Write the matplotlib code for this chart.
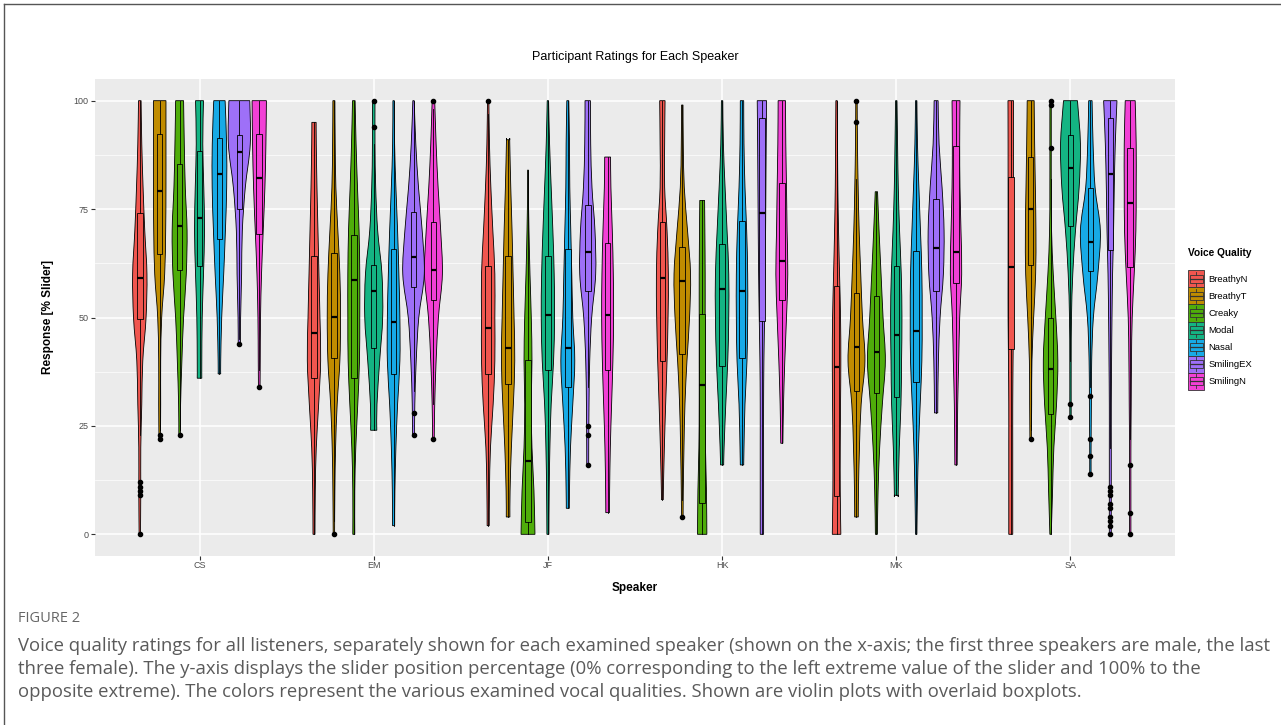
import numpy as np
import matplotlib.pyplot as plt
from matplotlib.path import Path
from matplotlib.patches import PathPatch, Patch, Rectangle
from matplotlib.lines import Line2D
from matplotlib.legend_handler import HandlerBase

speakers = ["CS", "EM", "JF", "HK", "MK", "SA"]
qualities = ["BreathyN", "BreathyT", "Creaky", "Modal", "Nasal", "SmilingEX", "SmilingN"]
colors = ["#F0564F", "#C08C00", "#4FAD0A", "#14B483", "#17AAE6", "#9E70F8", "#F240D6"]

# box statistics, one row per speaker, one column per voice quality
q1 = [
    [49.7, 64.7, 61.0, 61.8, 68.0, 75.0, 69.2],
    [36.0, 40.7, 36.0, 43.0, 37.0, 57.0, 54.1],
    [37.0, 34.7, 2.9, 37.8, 34.0, 56.1, 37.9],
    [39.9, 41.6, 7.3, 38.9, 40.7, 49.3, 54.1],
    [8.9, 33.1, 32.7, 31.7, 35.1, 56.1, 58.0],
    [42.7, 62.0, 27.7, 71.0, 60.7, 65.5, 61.6],
]
med = [
    [59.0, 79.1, 71.0, 73.0, 83.1, 88.1, 82.1],
    [46.5, 50.1, 58.6, 56.0, 49.0, 64.0, 61.0],
    [47.5, 43.0, 17.0, 50.5, 43.0, 65.1, 50.5],
    [59.0, 58.5, 34.5, 56.5, 56.1, 74.0, 63.0],
    [38.5, 43.1, 42.0, 45.9, 47.0, 66.0, 65.0],
    [61.6, 75.0, 38.1, 84.5, 67.5, 83.1, 76.5],
]
q3 = [
    [74.0, 92.3, 85.5, 88.3, 91.3, 92.0, 92.3],
    [64.2, 64.9, 69.0, 62.0, 65.9, 74.3, 72.0],
    [61.9, 64.2, 40.2, 64.2, 65.9, 76.0, 67.2],
    [72.0, 66.3, 50.9, 67.0, 72.3, 96.0, 81.1],
    [57.2, 55.7, 55.0, 61.9, 65.3, 77.4, 89.5],
    [82.3, 87.1, 50.0, 92.0, 79.8, 96.0, 89.2],
]
whislo = [
    [23, 24, 24, 36, 37, 45, 38],
    [0, 3, 0, 24, 2, 33, 30],
    [2, 4, 0, 0, 6, 34, 5],
    [8, 8, 0, 16, 16, 0, 21],
    [0, 4, 0, 9, 0, 28, 16],
    [0, 24, 0, 40, 34, 20, 22],
]
whishi = [
    [100, 100, 100, 100, 100, 100, 100],
    [95, 100, 100, 90, 100, 100, 98],
    [97, 91, 84, 100, 100, 100, 87],
    [100, 99, 77, 100, 100, 100, 100],
    [100, 82, 79, 100, 100, 100, 100],
    [100, 100, 82, 100, 100, 100, 100],
]
outliers = [
    [[12, 11, 10, 9, 0], [23, 22], [23], [], [], [44], [34]],
    [[], [0], [], [94, 100], [], [28, 23], [100, 22]],
    [[100], [], [], [], [], [25, 23, 16], []],
    [[], [4], [], [], [], [], []],
    [[], [95, 100], [], [], [], [], []],
    [[], [22], [89, 99, 100], [30, 27], [32, 22, 18, 14],
     [11, 10, 9, 7, 6, 4, 3, 2, 0], [16, 5, 0]],
]

# violin widths at ratings 0, 10, ..., 100
levels = np.arange(0, 101, 10)
dens_cs = [
    [0.07, 0.1, 0.1, 0.2, 0.3, 0.63, 0.72, 0.5, 0.33, 0.2, 0.13],
    [0, 0, 0.07, 0.1, 0.1, 0.2, 0.5, 0.6, 0.63, 0.63, 0.63],
    [0, 0, 0.07, 0.1, 0.23, 0.4, 0.67, 0.75, 0.57, 0.47, 0.4],
    [0, 0, 0, 0.23, 0.23, 0.27, 0.4, 0.5, 0.43, 0.33, 0.4],
    [0, 0, 0, 0.13, 0.13, 0.23, 0.43, 0.6, 0.73, 0.72, 0.57],
    [0, 0, 0, 0, 0.1, 0.13, 0.23, 0.3, 0.6, 1.1, 1.05],
    [0, 0, 0, 0.07, 0.1, 0.13, 0.23, 0.4, 0.57, 0.67, 0.72],
]
dens_em = [
    [0.1, 0.13, 0.23, 0.47, 0.67, 0.6, 0.5, 0.4, 0.3, 0.23, 0.2],
    [0.07, 0.1, 0.17, 0.33, 0.6, 0.67, 0.6, 0.4, 0.2, 0.13, 0.1],
    [0.1, 0.1, 0.2, 0.4, 0.57, 0.6, 0.6, 0.53, 0.37, 0.23, 0.13],
    [0, 0, 0.3, 0.33, 0.6, 0.9, 0.83, 0.4, 0.2, 0.13, 0.13],
    [0.1, 0.13, 0.23, 0.4, 0.63, 0.63, 0.53, 0.4, 0.23, 0.1, 0.07],
    [0, 0, 0.1, 0.13, 0.27, 0.53, 1.08, 0.87, 0.5, 0.23, 0.07],
    [0, 0, 0.07, 0.13, 0.27, 0.5, 0.9, 0.73, 0.47, 0.27, 0.13],
]
dens_jf = [
    [0.1, 0.13, 0.23, 0.5, 0.67, 0.67, 0.67, 0.47, 0.27, 0.13, 0.07],
    [0.17, 0.2, 0.33, 0.53, 0.67, 0.6, 0.5, 0.4, 0.27, 0.17, 0.17],
    [0.7, 0.6, 0.4, 0.33, 0.4, 0.33, 0.2, 0.1, 0.03, 0.03, 0.03],
    [0.1, 0.13, 0.2, 0.33, 0.57, 0.67, 0.63, 0.5, 0.33, 0.17, 0.07],
    [0.13, 0.17, 0.27, 0.5, 0.7, 0.5, 0.4, 0.3, 0.2, 0.17, 0.1],
    [0, 0.1, 0.1, 0.13, 0.2, 0.4, 0.8, 0.73, 0.43, 0.3, 0.27],
    [0.17, 0.2, 0.27, 0.4, 0.53, 0.6, 0.57, 0.47, 0.33, 0.28, 0.28],
]
dens_hk = [
    [0.1, 0.1, 0.2, 0.33, 0.47, 0.57, 0.6, 0.47, 0.23, 0.23, 0.27],
    [0.07, 0.1, 0.17, 0.27, 0.47, 0.73, 0.83, 0.53, 0.2, 0.1, 0.07],
    [0.47, 0.43, 0.33, 0.3, 0.3, 0.3, 0.3, 0.27, 0.23, 0.23, 0.23],
    [0, 0.1, 0.2, 0.37, 0.57, 0.67, 0.67, 0.5, 0.3, 0.13, 0.07],
    [0, 0.13, 0.2, 0.3, 0.5, 0.57, 0.57, 0.47, 0.3, 0.2, 0.17],
    [0.17, 0.17, 0.17, 0.17, 0.2, 0.27, 0.33, 0.37, 0.4, 0.43, 0.47],
    [0, 0.1, 0.1, 0.17, 0.3, 0.47, 0.6, 0.53, 0.47, 0.4, 0.37],
]
dens_mk = [
    [0.43, 0.37, 0.37, 0.4, 0.43, 0.4, 0.3, 0.2, 0.13, 0.1, 0.07],
    [0.17, 0.2, 0.3, 0.47, 0.85, 0.6, 0.43, 0.27, 0.17, 0.1, 0.07],
    [0.1, 0.17, 0.33, 0.6, 0.9, 0.67, 0.47, 0.27, 0.1, 0.1, 0.1],
    [0.2, 0.2, 0.3, 0.47, 0.53, 0.57, 0.5, 0.33, 0.2, 0.13, 0.07],
    [0.07, 0.13, 0.23, 0.4, 0.57, 0.6, 0.57, 0.43, 0.27, 0.13, 0.07],
    [0, 0, 0.17, 0.17, 0.23, 0.4, 0.73, 0.8, 0.6, 0.3, 0.2],
    [0, 0.1, 0.13, 0.17, 0.27, 0.37, 0.57, 0.5, 0.4, 0.37, 0.4],
]
dens_sa = [
    [0.2, 0.2, 0.2, 0.2, 0.23, 0.27, 0.27, 0.27, 0.27, 0.27, 0.28],
    [0, 0, 0.07, 0.1, 0.13, 0.3, 0.5, 0.53, 0.47, 0.4, 0.35],
    [0.07, 0.2, 0.33, 0.6, 0.73, 0.53, 0.27, 0.1, 0.07, 0.07, 0.07],
    [0, 0, 0.07, 0.07, 0.07, 0.1, 0.23, 0.5, 0.87, 1.0, 0.7],
    [0, 0.07, 0.07, 0.1, 0.13, 0.3, 0.75, 1.0, 0.47, 0.27, 0.17],
    [0.1, 0.1, 0.1, 0.1, 0.13, 0.17, 0.23, 0.33, 0.4, 0.5, 0.67],
    [0.07, 0.07, 0.07, 0.1, 0.13, 0.2, 0.4, 0.57, 0.6, 0.6, 0.5],
]
densities = [dens_cs, dens_em, dens_jf, dens_hk, dens_mk, dens_sa]

DODGE = 0.8
SLOT = DODGE / len(qualities)
HALF = SLOT / 2          # violin half-width for density 1.0
BOXW = 0.032


def smooth_side(pts):
    # Catmull-Rom through the points, written as cubic Bezier segments
    verts = [pts[0]]
    codes = []
    n = len(pts)
    for i in range(n - 1):
        p0 = pts[max(i - 1, 0)]
        p1 = pts[i]
        p2 = pts[i + 1]
        p3 = pts[min(i + 2, n - 1)]
        c1 = p1 + (p2 - p0) / 6.0
        c2 = p2 - (p3 - p1) / 6.0
        verts += [c1, c2, p2]
        codes += [Path.CURVE4] * 3
    return verts, codes


def violin(ax, x, lo, hi, dens, color):
    ys = [lo] + [v for v in levels if lo < v < hi] + [hi]
    ws = np.interp(ys, levels, dens) * HALF
    ws = np.maximum(ws, 0.002)
    right = np.column_stack([x + ws, ys])
    left = np.column_stack([x - ws, ys])[::-1]
    rv, rc = smooth_side(right)
    lv, lc = smooth_side(left)
    verts = rv + lv + [rv[0]]
    codes = [Path.MOVETO] + rc + [Path.LINETO] + lc + [Path.CLOSEPOLY]
    ax.add_patch(PathPatch(Path(np.array(verts), codes), facecolor=color,
                           edgecolor="black", lw=0.6, zorder=2))


class VioBoxKey(HandlerBase):
    # filled key with a small boxplot glyph on top
    def create_artists(self, legend, orig, xd, yd, w, h, fs, trans):
        c = orig.get_facecolor()
        ec = "#333333"
        x0, y0 = -xd, -yd
        arts = [Rectangle((x0, y0), w, h, facecolor=c, edgecolor=ec, lw=0.6),
                Rectangle((x0 + 0.1 * w, y0 + 0.25 * h), 0.8 * w, 0.5 * h,
                          facecolor=c, edgecolor=ec, lw=0.6),
                Line2D([x0 + 0.1 * w, x0 + 0.9 * w], [y0 + 0.5 * h] * 2, color=ec, lw=0.9),
                Line2D([x0 + 0.5 * w] * 2, [y0 + 0.1 * h, y0 + 0.25 * h], color=ec, lw=0.6),
                Line2D([x0 + 0.5 * w] * 2, [y0 + 0.75 * h, y0 + 0.9 * h], color=ec, lw=0.6)]
        for a in arts:
            a.set_transform(trans)
        return arts


plt.rcParams["font.family"] = ["Liberation Sans", "DejaVu Sans"]
fig = plt.figure(figsize=(12.81, 7.25), dpi=100)
ax = fig.add_axes([95 / 1281, 1 - 556 / 725, 1080 / 1281, 477 / 725])
ax.set_facecolor("#EBEBEB")
for s in ax.spines.values():
    s.set_visible(False)

for i, spk in enumerate(speakers):
    stats, pos = [], []
    for j, q in enumerate(qualities):
        x = i + 1 + (j - 3) * SLOT
        fl = outliers[i][j]
        lo = min([whislo[i][j]] + fl)
        hi = max([whishi[i][j]] + fl)
        violin(ax, x, lo, hi, densities[i][j], colors[j])
        stats.append(dict(med=med[i][j], q1=q1[i][j], q3=q3[i][j],
                          whislo=whislo[i][j], whishi=whishi[i][j], fliers=fl))
        pos.append(x)
    bp = ax.bxp(stats, positions=pos, widths=BOXW, patch_artist=True,
                showcaps=False, manage_ticks=False, zorder=3,
                boxprops=dict(edgecolor="black", lw=0.6),
                whiskerprops=dict(color="black", lw=0.6),
                medianprops=dict(color="black", lw=1.6),
                flierprops=dict(marker="o", markersize=3, markerfacecolor="black",
                                markeredgecolor="black", lw=0))
    for patch, c in zip(bp["boxes"], colors):
        patch.set_facecolor(c)

ax.set_xlim(0.4, 6.6)
ax.set_ylim(-5, 105)
ax.set_xticks(range(1, 7))
ax.set_xticklabels(speakers)
ax.set_yticks([0, 25, 50, 75, 100])
ax.set_yticks([12.5, 37.5, 62.5, 87.5], minor=True)
ax.grid(which="major", color="white", lw=1.1)
ax.grid(which="minor", axis="y", color="white", lw=0.5)
ax.set_axisbelow(True)
ax.tick_params(which="major", length=3, width=0.8, color="#333333",
               labelsize=6.5, labelcolor="#4D4D4D", pad=1.5)
ax.tick_params(axis="x", pad=0.5)
ax.tick_params(which="minor", length=0)

ax.set_title("Participant Ratings for Each Speaker", fontsize=9, pad=14)
ax.set_xlabel("Speaker", fontsize=8.5, fontweight="bold", labelpad=9)
ax.set_ylabel("Response [% Slider]", fontsize=8.5, fontweight="bold", labelpad=14)

handles = [Patch(facecolor=c) for c in colors]
leg = fig.legend(handles, qualities, loc="upper left",
                 handler_map={Patch: VioBoxKey()},
                 bbox_to_anchor=(1186 / 1281, 1 - 246 / 725), frameon=False,
                 fontsize=6.8, title="Voice Quality", handlelength=1.75,
                 handleheight=2.4, labelspacing=0.0, handletextpad=0.4,
                 borderaxespad=0, borderpad=0.2)
leg.get_title().set_fontweight("bold")
leg.get_title().set_fontsize(7.3)
leg._legend_box.align = "left"
leg._legend_box.sep = 9

# page frame and figure caption
fig.add_artist(plt.Line2D([4 / 1281, 4 / 1281], [0, 1 - 4 / 725],
                          color="#555555", lw=1))
fig.add_artist(plt.Line2D([4 / 1281, 1], [1 - 4 / 725, 1 - 4 / 725],
                          color="#555555", lw=1))
cap_font = ["Open Sans", "DejaVu Sans"]
fig.text(18 / 1281, 1 - 618 / 725, "FIGURE 2", fontsize=10.5, color="#666666",
         va="center", family=cap_font)
caption = [
    "Voice quality ratings for all listeners, separately shown for each examined speaker "
    "(shown on the x-axis; the first three speakers are male, the last",
    "three female). The y-axis displays the slider position percentage (0% corresponding "
    "to the left extreme value of the slider and 100% to the",
    "opposite extreme). The colors represent the various examined vocal qualities. "
    "Shown are violin plots with overlaid boxplots.",
]
for k, line in enumerate(caption):
    fig.text(18 / 1281, 1 - (646 + 23 * k) / 725, line, fontsize=13.3,
             color="#5A5A5A", va="center", family=cap_font)

fig.savefig("out.png", dpi=100)
